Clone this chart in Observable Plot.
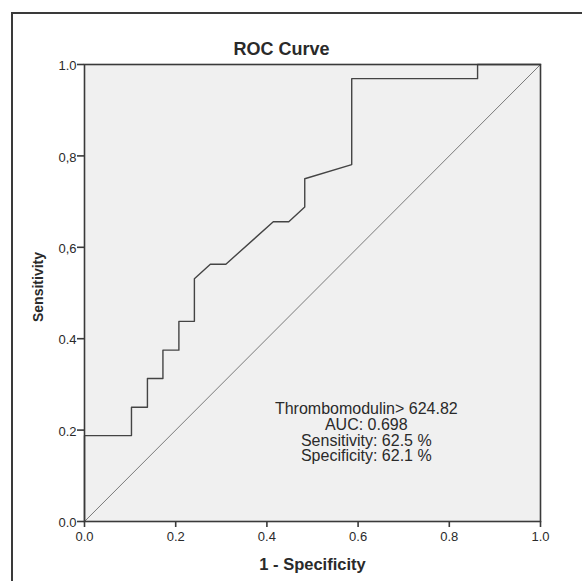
<!DOCTYPE html>
<html>
<head>
<meta charset="utf-8">
<script src="https://cdn.jsdelivr.net/npm/d3@7"></script>
<script src="https://cdn.jsdelivr.net/npm/@observablehq/plot@0.6"></script>
<style>
  html, body { margin: 0; padding: 0; background: #ffffff; }
  #wrap { position: relative; width: 582px; height: 581px; overflow: hidden; }
  #border { position: absolute; left: 11px; top: 12px; width: 600px; height: 600px;
            border-top: 2px solid #3a3a3a; border-left: 2px solid #3a3a3a; box-sizing: border-box; }
  #chart { position: absolute; left: 0; top: 0; }
</style>
</head>
<body>
<div id="wrap"><div id="border"></div><div id="chart"></div></div>
<script>
// ROC curve points (1 - specificity, sensitivity)
const oneMinusSpecificity = [0, 0, 0.103, 0.103, 0.138, 0.138, 0.172, 0.172, 0.207, 0.207, 0.241, 0.241, 0.276, 0.310, 0.414, 0.448, 0.483, 0.483, 0.586, 0.586, 0.862, 0.862, 1.0];
const sensitivity        = [0, 0.188, 0.188, 0.25, 0.25, 0.313, 0.313, 0.375, 0.375, 0.438, 0.438, 0.531, 0.563, 0.563, 0.656, 0.656, 0.688, 0.75, 0.781, 0.969, 0.969, 1.0, 1.0];
// Reference diagonal
const refX = [0, 1];
const refY = [0, 1];
// Ticks
const xTicks = [0, 0.2, 0.4, 0.6, 0.8, 1.0];
const xTickLabels = ["0.0", "0.2", "0.4", "0.6", "0.8", "1.0"];
const yTicks = [0, 0.2, 0.4, 0.6, 0.8, 1.0];
const yTickLabels = ["0.0", "0.2", "0.4", "0,6", "0,8", "1.0"];
// Texts
const titleText = "ROC Curve";
const xLabel = "1 - Specificity";
const yLabel = "Sensitivity";
const annotationLines = ["Thrombomodulin> 624.82", "AUC: 0.698", "Sensitivity: 62.5 %", "Specificity: 62.1 %"];

const curve = oneMinusSpecificity.map((x, i) => ({x, y: sensitivity[i]}));
const diag = refX.map((x, i) => ({x, y: refY[i]}));

const ink = "#2a2a2a";
const chart = Plot.plot({
  width: 582,
  height: 581,
  marginLeft: 84,
  marginRight: 42,
  marginTop: 64,
  marginBottom: 60,
  style: { fontFamily: "'Liberation Sans', Arial, sans-serif", fontSize: "13px", background: "transparent", color: ink, overflow: "visible" },
  x: { domain: [0, 1] },
  y: { domain: [0, 1] },
  marks: [
    Plot.frame({ fill: "#f0f0f0", stroke: null }),
    Plot.line(diag, { x: "x", y: "y", stroke: "#7a7a7a", strokeWidth: 1 }),
    Plot.line(curve, { x: "x", y: "y", stroke: "#444444", strokeWidth: 1.4 }),
    Plot.frame({ stroke: "#3a3a3a", strokeWidth: 1.6 }),
    Plot.axisX({ ticks: xTicks, tickFormat: () => "", tickSize: 6, stroke: "#3a3a3a", strokeWidth: 1.6, label: null }),
    Plot.axisY({ ticks: yTicks, tickFormat: () => "", tickSize: 7, stroke: "#3a3a3a", strokeWidth: 1.6, label: null }),
    Plot.text(xTicks, { x: d => d, text: (d, i) => xTickLabels[i], frameAnchor: "bottom", lineAnchor: "top", dy: 10,
                 textAnchor: "middle", fontSize: 13, fill: ink }),
    Plot.text(yTicks, { y: d => d, text: (d, i) => yTickLabels[i], frameAnchor: "left", lineAnchor: "middle", dx: -8, dy: 1.5,
                 textAnchor: "end", fontSize: 13, fill: ink }),
    Plot.text([titleText], { frameAnchor: "top", dx: -31, dy: -15, lineAnchor: "middle", textAnchor: "middle",
                 fontSize: 18, fontWeight: "bold", fill: ink }),
    Plot.text([xLabel], { frameAnchor: "bottom", dy: 43, lineAnchor: "middle", textAnchor: "middle",
                 fontSize: 16.5, fontWeight: "bold", fill: ink }),
    Plot.text([yLabel], { frameAnchor: "left", dx: -46, dy: -6, rotate: -90, lineAnchor: "middle", textAnchor: "middle",
                 fontSize: 14, fontWeight: "bold", fill: ink }),
    Plot.text([annotationLines.join("\n")], { x: () => 0.618, y: () => 0.195, textAnchor: "middle", lineAnchor: "middle",
                 lineHeight: 1.0, fontSize: 16, fill: ink })
  ]
});
document.getElementById("chart").appendChild(chart);
</script>
</body>
</html>
